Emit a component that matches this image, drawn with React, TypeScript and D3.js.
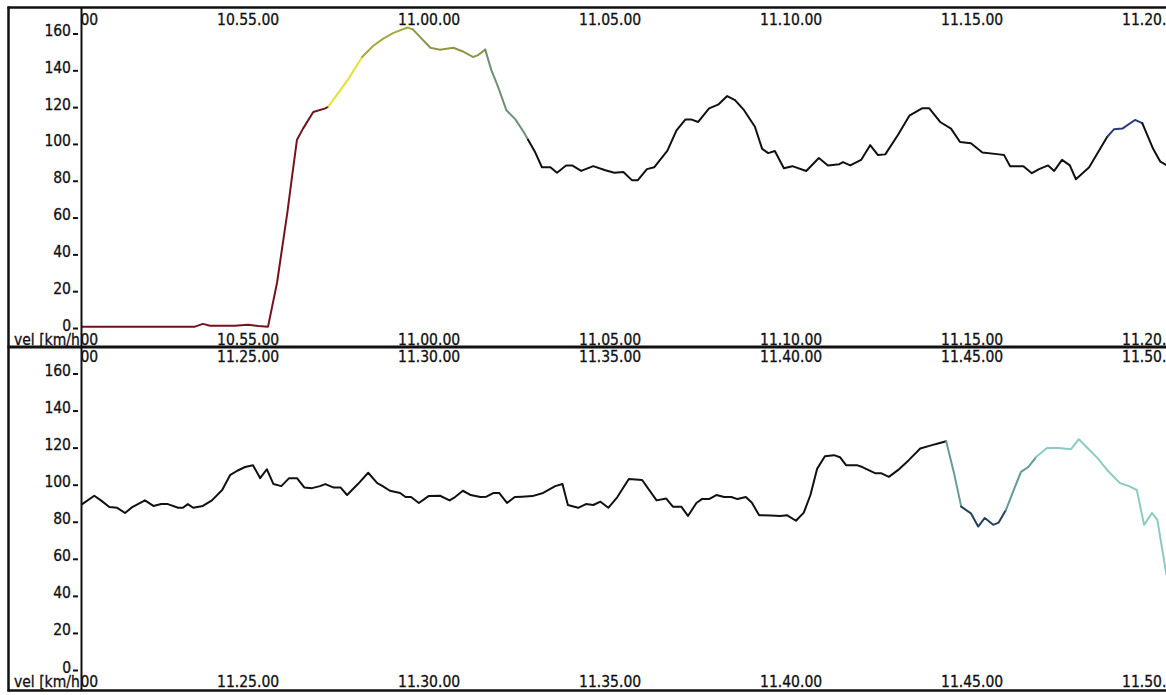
import React from "react";
import * as d3 from "d3";

// ---- data -------------------------------------------------------------
// seconds after the panel's base time, and speed in km/h
const topBase = [10, 50, 0];
const bottomBase = [11, 20, 0];

const topSeconds = [
  23, 121, 212, 225, 237, 278, 300, 317, 333, 348, 365, 373, 381, 391, 408, 428, 433,
  464, 489, 507, 524, 540, 564, 573, 602, 618, 640, 656, 673, 681, 693, 703, 714, 728,
  743, 757, 764, 776, 787, 801, 812, 827, 837, 852, 872, 892, 907, 922, 936, 946, 961,
  973, 995, 1010, 1025, 1034, 1046, 1064, 1079, 1094, 1107, 1122, 1140, 1152, 1162,
  1173, 1188, 1202, 1225, 1246, 1261, 1280, 1286, 1298, 1316, 1331, 1344, 1356, 1377,
  1396, 1417, 1429, 1447, 1465, 1480, 1498, 1517, 1545, 1553, 1563, 1585, 1599, 1611,
  1626, 1636, 1649, 1662, 1672, 1694, 1724, 1735, 1749, 1770, 1782, 1800, 1812, 1828,
];
const topSpeed = [
  1, 1, 1, 2.5, 1.5, 1.5, 2, 1.3, 1, 25, 63, 83, 102.6, 108.6, 117.6, 119.6, 120.6,
  134.5, 147.5, 153.5, 157.5, 160.5, 163.5, 162.5, 152.5, 151.5, 152.5, 150.5, 147.5,
  148.5, 151.5, 140.5, 131.5, 118.6, 113.6, 106.6, 102.6, 95.6, 87.6, 87.6, 84.6, 88.6,
  88.6, 85.6, 88.2, 86, 84.6, 85, 80.6, 80.6, 86.6, 87.6, 96.6, 107.6, 113.6, 113.6,
  112.2, 119.6, 121.6, 126.3, 124.1, 118.6, 109.6, 97.6, 95.3, 96.4, 87.1, 88.2, 85.6,
  92.6, 88.6, 89.3, 90.4, 88.6, 91.6, 99.6, 94.2, 94.6, 105.1, 115.6, 119.6, 119.6,
  112.2, 108.6, 101.3, 100.6, 95.6, 94.6, 94.2, 88.2, 88.2, 84.4, 86.6, 88.6, 85.6,
  91.6, 88.6, 81.1, 87.6, 104.2, 108.2, 108.6, 113.3, 111.6, 97.6, 90.6, 87.6,
];

const bottomSeconds = [
  25, 45, 56, 70, 83, 96, 108, 129, 143, 156, 167, 184, 192, 200, 209, 225, 240, 257,
  270, 282, 295, 308, 320, 331, 342, 355, 368, 381, 393, 406, 419, 428, 441, 453, 464,
  482, 499, 514, 523, 535, 552, 561, 570, 583, 599, 618, 634, 643, 656, 669, 685, 695,
  707, 716, 729, 742, 754, 771, 789, 809, 821, 830, 847, 860, 872, 884, 897, 912, 931,
  953, 977, 993, 1004, 1018, 1029, 1043, 1052, 1064, 1076, 1089, 1101, 1111, 1125,
  1135, 1147, 1166, 1182, 1193, 1208, 1221, 1232, 1243, 1256, 1271, 1281, 1291, 1309,
  1318, 1339, 1349, 1362, 1377, 1395, 1414, 1432, 1445, 1457, 1470, 1482, 1498, 1510,
  1521, 1535, 1544, 1556, 1571, 1581, 1593, 1606, 1624, 1643, 1664, 1677, 1692, 1708,
  1724, 1745, 1760, 1773, 1785, 1798, 1807, 1822,
];
const bottomSpeed = [
  89.8, 94.3, 91.8, 88.2, 87.8, 85, 88.2, 91.8, 88.8, 89.8, 89.8, 87.8, 87.8, 89.8,
  87.8, 88.8, 91.8, 97.4, 105.4, 107.8, 109.8, 110.8, 103.8, 108.6, 100.6, 99.5, 103.8,
  103.8, 98.8, 98.4, 99.5, 100.6, 98.8, 98.8, 94.7, 100.6, 106.7, 101.1, 99.5, 97,
  95.8, 93.6, 93.6, 90.4, 94.1, 94.3, 91.8, 93.6, 97, 94.7, 93.6, 93.8, 95.8, 95.8,
  90.4, 93.6, 93.8, 94.1, 95.8, 99.5, 100.6, 89.3, 87.8, 89.8, 89.3, 91.1, 87.8, 93.6,
  103.3, 102.8, 91.8, 92.8, 88.4, 88.4, 83.4, 90.4, 92.5, 92.5, 94.7, 93.6, 93.6, 92.5,
  93.6, 90.5, 83.8, 83.6, 83.4, 83.8, 80.8, 85.2, 94.7, 108.8, 115.6, 116.2, 115.1,
  110.8, 110.8, 109.8, 106.5, 106.5, 104.5, 108.1, 113.5, 119.8, 121.5, 122.6, 123.7,
  106.5, 88.4, 84.8, 77.7, 82.3, 78.6, 79.8, 86.6, 99.1, 107.2, 109.8, 115.2, 120.1,
  120.1, 119.4, 124.8, 119.8, 114.6, 108.1, 101.1, 99.5, 97.4, 78.6, 85, 81.3, 51.8,
];

const speedTicks = [0, 20, 40, 60, 80, 100, 120, 140, 160];
const yAxisLabel = "vel [km/h]";

// colour coding of the trace: [from second, to second, colour]
const topColorBands: [number, number, string][] = [
  [0, 433, "#74121f"],
  [433, 489, "#e2e22a"],
  [489, 573, "#a8a83c"],
  [573, 693, "#8f9648"],
  [693, 762, "#6f8f78"],
  [1724, 1790, "#2a3a78"],
];
const bottomColorBands: [number, number, string][] = [
  [1457, 1482, "#6a9a9a"],
  [1482, 1556, "#25415f"],
  [1556, 1600, "#5f9c96"],
  [1600, 1830, "#8ccbc2"],
];

// ---- layout -----------------------------------------------------------
const W = 1166;
const H = 695;
const AXIS_X = 81;
const RIGHT_X = 1167;
const FONT = '"DejaVu Sans Condensed", "DejaVu Sans", Verdana, sans-serif';
const FS = 15.5;
const INK = "#111";
const textStyle = { stroke: INK, strokeWidth: 0.3 };

type PanelCfg = {
  id: string;
  base: number[];
  seconds: number[];
  speed: number[];
  bands: [number, number, string][];
  y0: number;
  y160: number;
  topLabelY: number;
  bottomLabelY: number;
  clipTop: number;
  clipBottom: number;
};

const panels: PanelCfg[] = [
  {
    id: "p1",
    base: topBase,
    seconds: topSeconds,
    speed: topSpeed,
    bands: topColorBands,
    y0: 328.5,
    y160: 34,
    topLabelY: 25,
    bottomLabelY: 344.5,
    clipTop: 9,
    clipBottom: 346,
  },
  {
    id: "p2",
    base: bottomBase,
    seconds: bottomSeconds,
    speed: bottomSpeed,
    bands: bottomColorBands,
    y0: 670.5,
    y160: 374,
    topLabelY: 362,
    bottomLabelY: 687,
    clipTop: 349,
    clipBottom: 689,
  },
];

const fmt = d3.timeFormat("%H.%M.%S");

function Panel({ cfg }: { cfg: PanelCfg }) {
  const baseDate = new Date(2000, 0, 1, cfg.base[0], cfg.base[1], cfg.base[2]);
  const at = (s: number) => new Date(baseDate.getTime() + s * 1000);
  const x = d3.scaleTime().domain([at(23), at(1823)]).range([AXIS_X, RIGHT_X]);
  const y = d3.scaleLinear().domain([0, 160]).range([cfg.y0, cfg.y160]);

  const pts = cfg.seconds.map((s, i) => ({ s, v: cfg.speed[i] }));
  const colorAt = (s: number) => {
    for (const b of cfg.bands) if (s >= b[0] && s < b[1]) return b[2];
    return INK;
  };
  // group consecutive segments of equal colour
  const runs: { color: string; pts: { s: number; v: number }[] }[] = [];
  for (let i = 0; i < pts.length - 1; i++) {
    const c = colorAt((pts[i].s + pts[i + 1].s) / 2);
    const last = runs[runs.length - 1];
    if (last && last.color === c) last.pts.push(pts[i + 1]);
    else runs.push({ color: c, pts: [pts[i], pts[i + 1]] });
  }
  const line = d3
    .line<{ s: number; v: number }>()
    .x((d) => x(at(d.s)))
    .y((d) => y(d.v));

  const ticks = d3.timeMinute
    .every(5)!
    .range(at(-600), at(2400))
    .filter((t) => x(t) > 20 && x(t) < W + 60);

  const plotClip = `clip-${cfg.id}`;
  const labelClip = `lclip-${cfg.id}`;

  return (
    <g>
      <defs>
        <clipPath id={plotClip}>
          <rect x={AXIS_X + 1} y={cfg.clipTop} width={W - AXIS_X} height={cfg.clipBottom - cfg.clipTop} />
        </clipPath>
        <clipPath id={labelClip}>
          <rect x={9} y={cfg.clipTop} width={AXIS_X - 9} height={cfg.clipBottom - cfg.clipTop + 4} />
        </clipPath>
      </defs>
      {/* y ticks */}
      {speedTicks.map((t) => (
        <g key={t}>
          <line x1={73} x2={78} y1={y(t)} y2={y(t)} stroke={INK} strokeWidth={2} />
          <text
            x={71}
            y={y(t) + 2}
            textAnchor="end"
            fontFamily={FONT}
            fontSize={FS}
            fill={INK}
            style={textStyle}
          >
            {t}
          </text>
        </g>
      ))}
      <text
        x={14}
        y={cfg.bottomLabelY}
        fontFamily={FONT}
        fontSize={FS}
        fill={INK}
        style={textStyle}
        clipPath={`url(#${labelClip})`}
      >
        {yAxisLabel}
      </text>
      {/* time labels */}
      <g clipPath={`url(#${plotClip})`}>
        {ticks.map((t) => (
          <g key={t.getTime()}>
            <text x={x(t)} y={cfg.topLabelY} textAnchor="middle" fontFamily={FONT} fontSize={FS} fill={INK} style={textStyle}>
              {fmt(t)}
            </text>
            <text x={x(t)} y={cfg.bottomLabelY} textAnchor="middle" fontFamily={FONT} fontSize={FS} fill={INK} style={textStyle}>
              {fmt(t)}
            </text>
          </g>
        ))}
        {runs.map((r, i) => (
          <path
            key={i}
            d={line(r.pts) || ""}
            fill="none"
            stroke={r.color}
            strokeWidth={2}
            strokeLinejoin="round"
            strokeLinecap="round"
          />
        ))}
      </g>
    </g>
  );
}

export default function App() {
  return (
    <svg
      width={W}
      height={H}
      style={{ position: "absolute", left: 0, top: 0, background: "#fff" }}
    >
      <rect x={0} y={0} width={W} height={H} fill="#fff" />
      {panels.map((p) => (
        <Panel key={p.id} cfg={p} />
      ))}
      {/* frame */}
      <line x1={7.5} x2={W} y1={7.5} y2={7.5} stroke={INK} strokeWidth={2.5} />
      <line x1={8.5} x2={8.5} y1={6.5} y2={691.5} stroke={INK} strokeWidth={2.5} />
      <line x1={7.5} x2={W} y1={347} y2={347} stroke={INK} strokeWidth={3} />
      <line x1={7.5} x2={W} y1={690.5} y2={690.5} stroke={INK} strokeWidth={2.5} />
      <line x1={AXIS_X + 0.5} x2={AXIS_X + 0.5} y1={7} y2={691} stroke={INK} strokeWidth={2} />
    </svg>
  );
}
